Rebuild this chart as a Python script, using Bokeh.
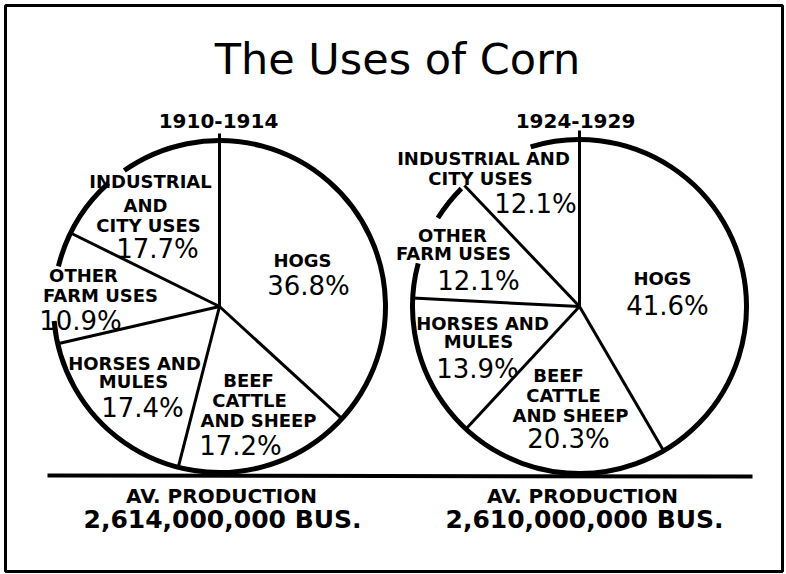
import numpy as np
from bokeh.plotting import figure
from bokeh.models import Range1d
from bokeh.core.properties import value
from bokeh.embed import file_html
from bokeh.resources import INLINE

# ---------------- data ----------------
title_text = "The Uses of Corn"
periods = ["1910-1914", "1924-1929"]
categories = ["HOGS", "BEEF CATTLE AND SHEEP", "HORSES AND MULES",
              "OTHER FARM USES", "INDUSTRIAL AND CITY USES"]
pct_1910 = [36.8, 17.2, 17.4, 10.9, 17.7]
pct_1924 = [41.6, 20.3, 13.9, 12.1, 12.1]
production_caption = "AV. PRODUCTION"
production = ["2,614,000,000 BUS.", "2,610,000,000 BUS."]
# label wrapping as printed on each pie
label_lines_1910 = [["HOGS"], ["BEEF", "CATTLE", "AND SHEEP"], ["HORSES AND", "MULES"],
                    ["OTHER", "FARM USES"], ["INDUSTRIAL", "AND", "CITY USES"]]
label_lines_1924 = [["HOGS"], ["BEEF", "CATTLE", "AND SHEEP"], ["HORSES AND", "MULES"],
                    ["OTHER", "FARM USES"], ["INDUSTRIAL AND", "CITY USES"]]

# ---------------- layout (reference pixel coordinates, text y = baseline) ----------------
W, H = 786, 574
def px(x):
    return x
def py(y):
    return H - y
def ty(baseline, size):
    # place the middle of the capitals; text drawn with "middle" baseline
    return py(baseline - 0.365 * size)

pies = [
    dict(cx=219, cy=306, r=166, top=133, pct=pct_1910, lines=label_lines_1910,
         gaps=[(265, 284), (318, 325)],
         line_pos=[([302], [267]), ([248, 249, 258], [387, 407, 427]), ([134, 133], [370, 388]),
                   ([83, 100], [282, 302]), ([150, 145, 148], [188, 212, 232])],
         pct_pos=[(308, 295), (240, 455), (142, 417), (80, 330), (157, 258)],
         head=(218, 128), cap=(221, 503), prod=(222, 528)),
    dict(cx=579, cy=306, r=167, top=130, pct=pct_1924, lines=label_lines_1924,
         gaps=[(285, 302), (315, 343)],
         line_pos=[([662], [285]), ([558, 563, 570], [382, 402, 422]), ([482, 478], [330, 348]),
                   ([452, 453], [242, 260]), ([483, 480], [165, 185])],
         pct_pos=[(667, 315), (568, 448), (477, 378), (478, 290), (535, 213)],
         head=(575, 128), cap=(582, 503), prod=(584, 528)),
]

FONT = value("DejaVu Sans")
LBL, PCT, HEAD, PROD, TTL = 18, 26, 20, 25, 43

p = figure(width=W, height=H, output_backend="svg", toolbar_location=None,
           x_range=Range1d(0, W), y_range=Range1d(0, H), min_border=0)
p.axis.visible = False
p.grid.visible = False
p.outline_line_color = None
p.background_fill_color = "white"
p.border_fill_color = "white"

# frame
p.quad(left=[px(5)], right=[px(782)], bottom=[py(571)], top=[py(5)], fill_color=None,
       line_color="black", line_width=3)

# base line under both pies
p.segment(x0=[px(47)], y0=[py(475)], x1=[px(752)], y1=[py(476)],
          line_color="black", line_width=4)

def put_text(xs, ys, texts, size, bold):
    p.text(x=xs, y=ys, text=texts, text_font=FONT,
           text_font_style="bold" if bold else "normal",
           text_font_size=f"{size}px", text_align="center", text_baseline="middle",
           text_color="black")

for k, pie in enumerate(pies):
    cx, cy, r = px(pie["cx"]), py(pie["cy"]), pie["r"]
    vals = np.array(pie["pct"], dtype=float)
    cum = np.concatenate([[0.0], np.cumsum(vals)]) / vals.sum() * 360.0  # clockwise from top
    # white wedges
    starts = np.radians(90 - cum[1:])
    ends = np.radians(90 - cum[:-1])
    p.wedge(x=[cx] * len(vals), y=[cy] * len(vals), radius=r, start_angle=starts,
            end_angle=ends, fill_color="white", line_color=None)
    # radial dividing lines
    b = np.radians(cum[1:-1])
    x1 = cx + r * np.sin(b)
    y1 = cy + r * np.cos(b)
    p.segment(x0=[cx] * len(b), y0=[cy] * len(b), x1=x1, y1=y1,
              line_color="black", line_width=3)
    # top vertical line, extending above the circle
    p.segment(x0=[cx], y0=[cy], x1=[cx], y1=[py(pie["top"])], line_color="black", line_width=3)
    # outline with gaps (clockwise-from-top degrees)
    gaps = sorted(pie["gaps"])
    segs = []
    for i, g in enumerate(gaps):
        nxt = gaps[(i + 1) % len(gaps)][0]
        if nxt <= g[1]:
            nxt += 360
        segs.append((g[1], nxt))
    for a1, a2 in segs:
        p.arc(x=cx, y=cy, radius=r, start_angle=np.radians(90 - a2),
              end_angle=np.radians(90 - a1), direction="anticlock",
              line_color="black", line_width=5)
    # category labels
    lx, ly, lt = [], [], []
    for lines, (xs, ys) in zip(pie["lines"], pie["line_pos"]):
        for t, xx, yy in zip(lines, xs, ys):
            lx.append(px(xx)); ly.append(ty(yy, LBL)); lt.append(t)
    put_text(lx, ly, lt, LBL, True)
    # percentages
    qx = [px(a) for a, _ in pie["pct_pos"]]
    qy = [ty(bb, PCT) for _, bb in pie["pct_pos"]]
    qt = [f"{v:.1f}%" for v in pie["pct"]]
    put_text(qx, qy, qt, PCT, False)
    # period heading and production captions
    put_text([px(pie["head"][0])], [ty(pie["head"][1], HEAD)], [periods[k]], HEAD, True)
    put_text([px(pie["cap"][0])], [ty(pie["cap"][1], HEAD)], [production_caption], HEAD, True)
    put_text([px(pie["prod"][0])], [ty(pie["prod"][1], PROD)], [production[k]], PROD, True)

# title
put_text([px(397)], [ty(74, TTL)], [title_text], TTL, False)

open("out.html", "w").write(file_html(p, INLINE))
